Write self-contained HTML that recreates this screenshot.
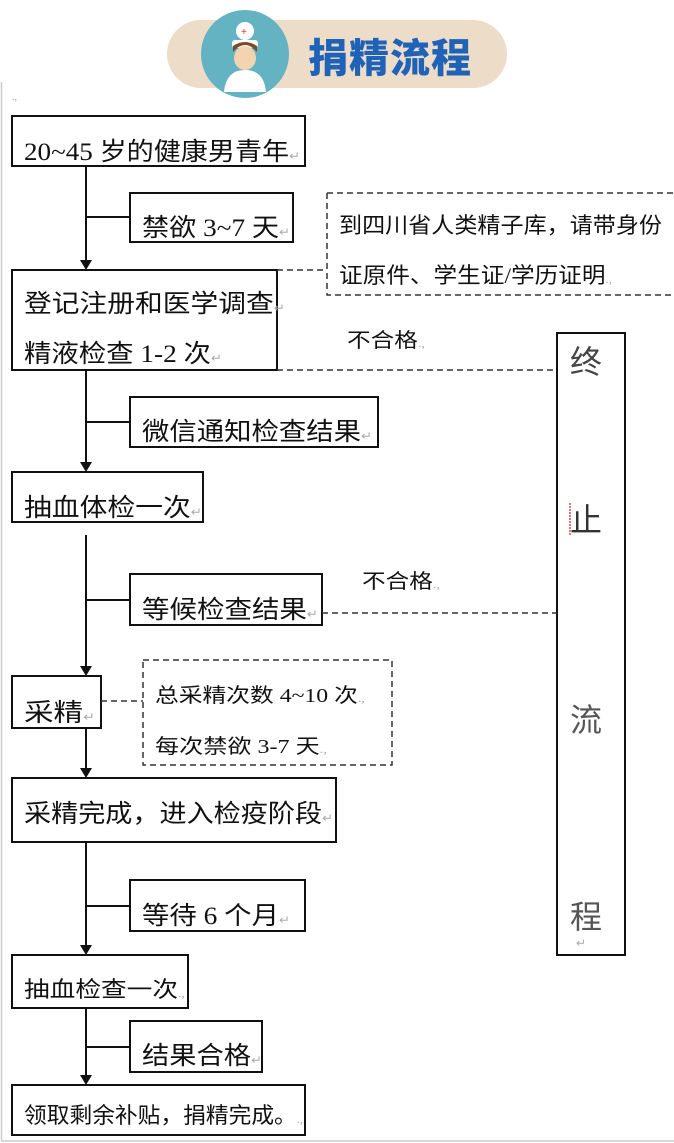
<!DOCTYPE html>
<html><head><meta charset="utf-8"><style>
html,body{margin:0;padding:0;background:#fff;}
svg{display:block}
text{font-family:"Liberation Serif","Noto Sans CJK SC",serif;fill:#111}
.r{fill:#aaa;font-size:12px}
</style></head><body>
<svg width="674" height="1143" viewBox="0 0 674 1143" xmlns="http://www.w3.org/2000/svg">
<line x1="1.5" y1="82" x2="1.5" y2="1141" stroke="#ccc" stroke-width="1.5"/>
<line x1="1" y1="1141" x2="674" y2="1141" stroke="#ccc" stroke-width="1.5"/>
<text x="12" y="100" class="r" style="font-size:10px">.,</text>
<rect x="167" y="20" width="340" height="68" rx="34" fill="#ecdcc8"/>
<circle cx="245" cy="54" r="44" fill="#63b3c3"/>
<rect x="232" y="40" width="26" height="8" rx="3" fill="#fff"/>
<circle cx="245" cy="31" r="9" fill="#fff"/>
<text x="241" y="35" style="fill:#d33;font-size:10px;font-family:'Liberation Sans',sans-serif">+</text>
<ellipse cx="245" cy="58" rx="11" ry="12" fill="#f3d3b0"/>
<path d="M233 52 q12 -14 24 0 l0 -6 q-12 -8 -24 0z" fill="#7a4a2a"/>
<path d="M224 92 q2 -22 21 -22 q19 0 21 22z" fill="#fff"/>
<text x="308" y="72" style="font-family:'Noto Sans CJK SC',sans-serif;font-weight:900;font-size:40px;fill:#1e63b8;letter-spacing:1px">捐精流程</text>

<g stroke="#111" stroke-width="2" fill="#fff">
<line x1="86" y1="166" x2="86" y2="262"/>
<line x1="86" y1="370" x2="86" y2="464"/>
<line x1="86" y1="535" x2="86" y2="668"/>
<line x1="86" y1="728" x2="86" y2="770"/>
<line x1="86" y1="842" x2="86" y2="947"/>
<line x1="86" y1="1008" x2="86" y2="1077"/>
<line x1="86" y1="217" x2="130" y2="217"/>
<line x1="86" y1="422" x2="130" y2="422"/>
<line x1="86" y1="600" x2="130" y2="600"/>
<line x1="86" y1="906" x2="130" y2="906"/>
<line x1="86" y1="1047" x2="130" y2="1047"/>
<rect x="12" y="116" width="293" height="50"/>
<rect x="130" y="193" width="163" height="49"/>
<rect x="12" y="270" width="265" height="100"/>
<rect x="557" y="333" width="68" height="622"/>
<rect x="130" y="397" width="248" height="50"/>
<rect x="12" y="472" width="191" height="50"/>
<rect x="130" y="574" width="192" height="51"/>
<rect x="12" y="676" width="89" height="52"/>
<rect x="12" y="778" width="324" height="64"/>
<rect x="130" y="880" width="175" height="51"/>
<rect x="12" y="955" width="176" height="53"/>
<rect x="130" y="1021" width="132" height="51"/>
<rect x="12" y="1085" width="293" height="50"/>
</g>
<g fill="#111">
<path d="M80 260 L92 260 L86 270z"/>
<path d="M80 462 L92 462 L86 472z"/>
<path d="M80 666 L92 666 L86 676z"/>
<path d="M80 768 L92 768 L86 778z"/>
<path d="M80 945 L92 945 L86 955z"/>
<path d="M80 1075 L92 1075 L86 1085z"/>
</g>
<g stroke="#333" stroke-width="1.5" fill="none" stroke-dasharray="6,4">
<path d="M327 193 H674 M327 193 V295 H674"/>
<line x1="277" y1="270" x2="327" y2="270"/>
<line x1="277" y1="370" x2="557" y2="370"/>
<line x1="322" y1="613" x2="557" y2="613"/>
<line x1="101" y1="701" x2="143" y2="701"/>
<rect x="143" y="660" width="249" height="105"/>
</g>
<g style="font-size:25px" lengthAdjust="spacingAndGlyphs">
<text x="24" y="160" textLength="276" lengthAdjust="spacingAndGlyphs">20~45 岁的健康男青年<tspan class="r">↵</tspan></text>
<text x="142" y="236" textLength="148" lengthAdjust="spacingAndGlyphs">禁欲 3~7 天<tspan class="r">↵</tspan></text>
<text x="24" y="312" textLength="261" lengthAdjust="spacingAndGlyphs">登记注册和医学调查<tspan class="r">↵</tspan></text>
<text x="24" y="362" textLength="198" lengthAdjust="spacingAndGlyphs">精液检查 1-2 次<tspan class="r">↵</tspan></text>
<text x="142" y="440" textLength="230" lengthAdjust="spacingAndGlyphs">微信通知检查结果<tspan class="r">↵</tspan></text>
<text x="24" y="516" textLength="178" lengthAdjust="spacingAndGlyphs">抽血体检一次<tspan class="r">↵</tspan></text>
<text x="142" y="618" textLength="176" lengthAdjust="spacingAndGlyphs">等候检查结果<tspan class="r">↵</tspan></text>
<text x="24" y="721" textLength="71" lengthAdjust="spacingAndGlyphs">采精<tspan class="r">↵</tspan></text>
<text x="24" y="822" textLength="309" lengthAdjust="spacingAndGlyphs">采精完成，进入检疫阶段<tspan class="r">↵</tspan></text>
<text x="142" y="924" textLength="148" lengthAdjust="spacingAndGlyphs">等待 6 个月<tspan class="r">↵</tspan></text>
<text x="142" y="1064" textLength="120" lengthAdjust="spacingAndGlyphs">结果合格<tspan class="r">↵</tspan></text>
</g>
<g style="font-size:22px">
<text x="339" y="233" textLength="323" lengthAdjust="spacingAndGlyphs">到四川省人类精子库，请带身份</text>
<text x="339" y="283" textLength="273" lengthAdjust="spacingAndGlyphs">证原件、学生证/学历证明<tspan class="r">.,</tspan></text>
<text x="24" y="997" textLength="161" lengthAdjust="spacingAndGlyphs">抽血检查一次<tspan class="r">.,</tspan></text>
<text x="24" y="1123" textLength="279" lengthAdjust="spacingAndGlyphs">领取剩余补贴，捐精完成。<tspan class="r">.,</tspan></text>
</g>
<g style="font-size:20px">
<text x="155" y="702" textLength="210" lengthAdjust="spacingAndGlyphs">总采精次数 4~10 次<tspan class="r">.,</tspan></text>
<text x="155" y="753" textLength="172" lengthAdjust="spacingAndGlyphs">每次禁欲 3-7 天<tspan class="r">.,</tspan></text>
<text x="347" y="347" textLength="78" lengthAdjust="spacingAndGlyphs">不合格<tspan class="r">.,</tspan></text>
<text x="362" y="588" textLength="78" lengthAdjust="spacingAndGlyphs">不合格<tspan class="r">.,</tspan></text>
</g>
<g style="font-size:32px">
<text x="570" y="373" style="fill:#444">终</text>
<text x="570" y="531" style="fill:#333">止</text>
<line x1="570" y1="503" x2="570" y2="535" stroke="#d44" stroke-width="1.5" stroke-dasharray="2,1"/>
<text x="570" y="731" style="fill:#555">流</text>
<text x="570" y="928" style="fill:#555">程</text>
<text x="576" y="947" class="r">↵</text>
</g>
</svg>
</body></html>
